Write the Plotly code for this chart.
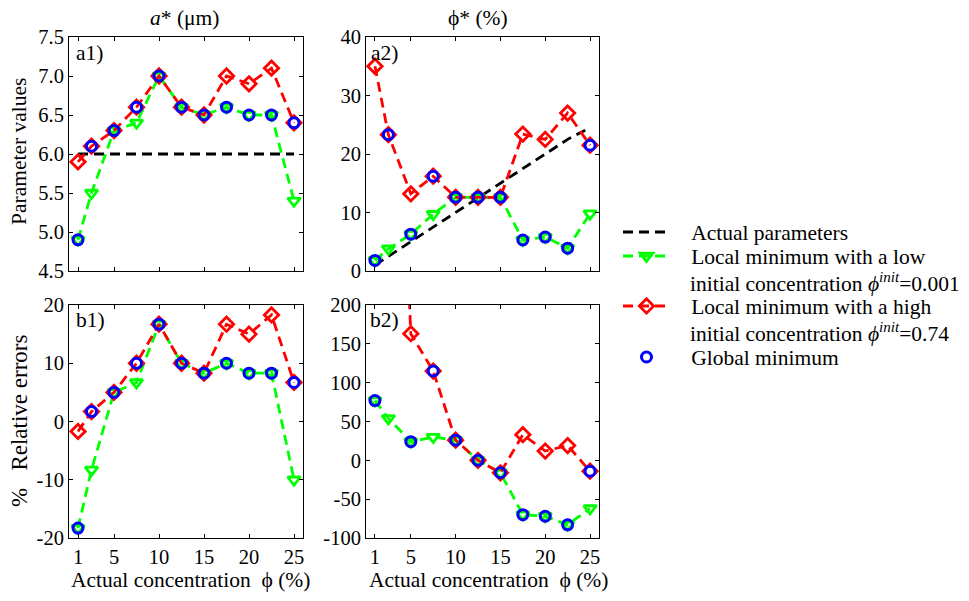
import plotly.graph_objects as go

# ---------------- data ----------------
conc = [1, 2.5, 5, 7.5, 10, 12.5, 15, 17.5, 20, 22.5, 25]

actual_a = [6, 6, 6, 6, 6, 6, 6, 6, 6, 6, 6]
actual_phi = [1, 2.5, 5, 7.5, 10, 12.5, 15, 17.5, 20, 22.5, 24.5]

low_a = [4.9, 5.5, 6.3, 6.4, 7.0, 6.6, 6.5, 6.6, 6.5, 6.5, 5.4]
high_a = [5.9, 6.1, 6.3, 6.6, 7.0, 6.6, 6.5, 7.0, 6.9, 7.1, 6.4]
glob_a = [4.9, 6.1, 6.3, 6.6, 7.0, 6.6, 6.5, 6.6, 6.5, 6.5, 6.4]

low_phi = [1.8, 3.8, 6.3, 9.7, 12.6, 12.6, 12.6, 5.3, 5.8, 3.9, 9.8]
high_phi = [35.0, 23.3, 13.2, 16.2, 12.6, 12.6, 12.6, 23.4, 22.5, 27.0, 21.5]
glob_phi = [1.8, 23.3, 6.3, 16.2, 12.6, 12.6, 12.6, 5.3, 5.8, 3.9, 21.5]

low_err_a = [-18.3, -8.3, 5.0, 6.7, 16.7, 10.0, 8.3, 10.0, 8.3, 8.3, -10.0]
high_err_a = [-1.7, 1.7, 5.0, 10.0, 16.7, 10.0, 8.3, 16.7, 15.0, 18.3, 6.7]
glob_err_a = [-18.3, 1.7, 5.0, 10.0, 16.7, 10.0, 8.3, 10.0, 8.3, 8.3, 6.7]

low_err_phi = [77, 54, 24, 30, 26, 0, -16, -70, -72, -83, -62]
high_err_phi = [3400, 832, 163, 115, 26, 0, -16, 33, 12, 19, -14]
glob_err_phi = [77, 832, 24, 115, 26, 0, -16, -70, -72, -83, -14]

xticks = [1, 5, 10, 15, 20, 25]
yticks_a = [4.5, 5.0, 5.5, 6.0, 6.5, 7.0, 7.5]
yticklabels_a = ["4.5", "5.0", "5.5", "6.0", "6.5", "7.0", "7.5"]
yticks_phi = [0, 10, 20, 30, 40]
yticks_err_a = [-20, -10, 0, 10, 20]
yticklabels_err_a = ["-20", "-10", "0", "10", "20"]
yticks_err_phi = [-100, -50, 0, 50, 100, 150, 200]
yticklabels_err_phi = ["-100", "-50", "0", "50", "100", "150", "200"]

FONT = "Liberation Serif, 'Times New Roman', Times, serif"
W, H = 969, 601
SP = "\u00a0" * 3


def px_x(p):
    return p / W


def px_y(p):
    return 1 - p / H


fig = go.Figure()

dash = "10px,6px"
LW = 2.8

panels = [
    ("x", "y", actual_a, low_a, high_a, glob_a, True),
    ("x2", "y2", actual_phi, low_phi, high_phi, glob_phi, False),
    ("x3", "y3", None, low_err_a, high_err_a, glob_err_a, False),
    ("x4", "y4", None, low_err_phi, high_err_phi, glob_err_phi, False),
]

for xa, ya, act, low, high, glob, show in panels:
    if act is not None:
        fig.add_trace(go.Scatter(
            x=conc, y=act, mode="lines", xaxis=xa, yaxis=ya,
            line=dict(color="black", width=LW, dash=dash),
            name=SP + "Actual parameters", showlegend=show, legend="legend"))
    fig.add_trace(go.Scatter(
        x=conc, y=low, mode="lines+markers", xaxis=xa, yaxis=ya,
        line=dict(color="#00ff00", width=LW, dash=dash),
        marker=dict(symbol="triangle-down-open", size=11, color="#00ff00",
                    line=dict(width=2.8, color="#00ff00")),
        name=SP + "Local minimum with a low",
        showlegend=show, legend="legend2"))
    fig.add_trace(go.Scatter(
        x=conc, y=high, mode="lines+markers", xaxis=xa, yaxis=ya,
        line=dict(color="#ff0000", width=LW, dash=dash),
        marker=dict(symbol="diamond-open", size=11, color="#ff0000",
                    line=dict(width=2.8, color="#ff0000")),
        name=SP + "Local minimum with a high",
        showlegend=show, legend="legend3"))
    fig.add_trace(go.Scatter(
        x=conc, y=glob, mode="markers", xaxis=xa, yaxis=ya,
        marker=dict(symbol="circle-open", size=10, color="#0000ff",
                    line=dict(width=3, color="#0000ff")),
        name=SP + "Global minimum", showlegend=show, legend="legend4"))

xd1 = [px_x(69), px_x(303)]
xd2 = [px_x(366), px_x(599)]
yd1 = [px_y(271), px_y(37)]
yd2 = [px_y(538), px_y(305)]

TFS = 20.5
axcommon = dict(showline=True, linecolor="black", linewidth=1, mirror="ticks",
                ticks="inside", ticklen=4, tickcolor="black", showgrid=False,
                zeroline=False, automargin=False,
                tickfont=dict(family=FONT, size=TFS, color="black"))

fig.update_layout(
    xaxis=dict(domain=xd1, anchor="y", range=[0, 26], tickvals=xticks, showticklabels=False, **axcommon),
    yaxis=dict(domain=yd1, anchor="x", range=[4.5, 7.5], tickvals=yticks_a, ticktext=yticklabels_a, **axcommon),
    xaxis2=dict(domain=xd2, anchor="y2", range=[0, 26], tickvals=xticks, showticklabels=False, **axcommon),
    yaxis2=dict(domain=yd1, anchor="x2", range=[0, 40], tickvals=yticks_phi, **axcommon),
    xaxis3=dict(domain=xd1, anchor="y3", range=[0, 26], tickvals=xticks, **axcommon),
    yaxis3=dict(domain=yd2, anchor="x3", range=[-20, 20], tickvals=yticks_err_a, ticktext=yticklabels_err_a, **axcommon),
    xaxis4=dict(domain=xd2, anchor="y4", range=[0, 26], tickvals=xticks, **axcommon),
    yaxis4=dict(domain=yd2, anchor="x4", range=[-100, 200], tickvals=yticks_err_phi, ticktext=yticklabels_err_phi, **axcommon),
)

FS = 21.5
annots = []
for lab, cx, cy in [("a1)", 75, 53), ("a2)", 370, 53), ("b1)", 75, 320), ("b2)", 369, 320)]:
    annots.append(dict(text=lab, xref="paper", yref="paper", x=px_x(cx), y=px_y(cy),
                       xanchor="left", yanchor="middle", showarrow=False, borderpad=0,
                       font=dict(family=FONT, size=FS, color="black")))

annots.append(dict(text="<i>a</i>* (μm)", xref="paper", yref="paper", x=px_x(184), y=px_y(18),
                   xanchor="center", yanchor="middle", showarrow=False,
                   font=dict(family=FONT, size=FS, color="black")))
annots.append(dict(text="ϕ* (%)", xref="paper", yref="paper", x=px_x(478), y=px_y(18),
                   xanchor="center", yanchor="middle", showarrow=False,
                   font=dict(family=FONT, size=FS, color="black")))
annots.append(dict(text="Parameter values", xref="paper", yref="paper", x=px_x(19), y=px_y(152),
                   xanchor="center", yanchor="middle", textangle=-90, showarrow=False,
                   font=dict(family=FONT, size=FS, color="black")))
annots.append(dict(text="%\u00a0\u00a0\u00a0Relative errors", xref="paper", yref="paper", x=px_x(19), y=px_y(421),
                   xanchor="center", yanchor="middle", textangle=-90, showarrow=False,
                   font=dict(family=FONT, size=23, color="black")))
for cx in [190, 488]:
    annots.append(dict(text="Actual concentration\u00a0\u00a0ϕ (%)", xref="paper", yref="paper",
                       x=px_x(cx), y=px_y(580), xanchor="center", yanchor="middle",
                       showarrow=False, font=dict(family=FONT, size=FS, color="black")))

# second lines of the two-line legend entries
for txt, cy in [("initial concentration <i>ϕ</i><sup><i>init</i></sup>=0.001", 282),
                ("initial concentration <i>ϕ</i><sup><i>init</i></sup>=0.74", 332)]:
    annots.append(dict(text=txt, xref="paper", yref="paper", x=px_x(688), y=px_y(cy),
                       xanchor="left", yanchor="middle", showarrow=False,
                       font=dict(family=FONT, size=FS, color="black")))

legcommon = dict(xanchor="left", yanchor="middle", bgcolor="rgba(0,0,0,0)",
                 itemwidth=47, font=dict(family=FONT, size=FS, color="black"))

fig.update_layout(
    width=W, height=H,
    margin=dict(l=0, r=0, t=0, b=0, pad=0, autoexpand=False),
    paper_bgcolor="white", plot_bgcolor="white",
    font=dict(family=FONT, size=FS, color="black"),
    annotations=annots,
    legend=dict(x=px_x(618), y=px_y(232), **legcommon),
    legend2=dict(x=px_x(618), y=px_y(256), **legcommon),
    legend3=dict(x=px_x(618), y=px_y(306), **legcommon),
    legend4=dict(x=px_x(618), y=px_y(357), **legcommon),
)

fig.write_html("out.html",
               config={"displayModeBar": False},
               post_script="document.body.style.margin='0';document.body.style.padding='0';")
